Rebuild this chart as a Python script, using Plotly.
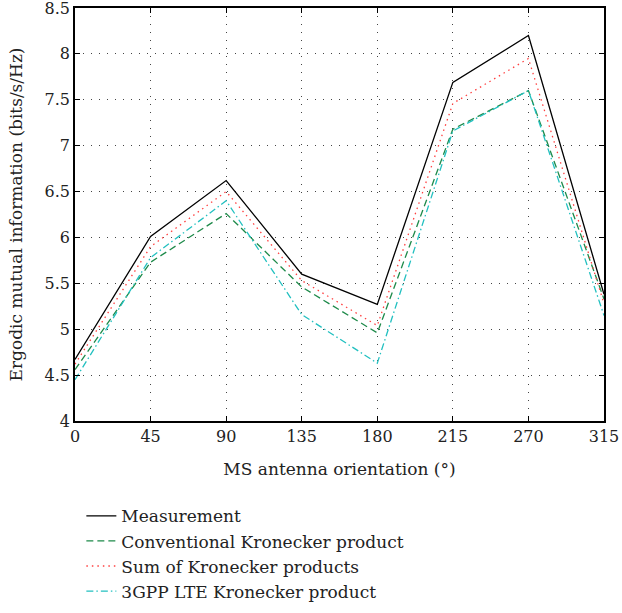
import plotly.graph_objects as go

x_ticklabels = ["0", "45", "90", "135", "180", "215", "270", "315"]
measurement = [4.67, 6.01, 6.62, 5.60, 5.27, 7.69, 8.20, 5.38]
conventional = [4.56, 5.73, 6.26, 5.46, 4.96, 7.18, 7.60, 5.33]
sum_kron = [4.62, 5.90, 6.50, 5.53, 5.04, 7.46, 7.95, 5.28]
lte = [4.45, 5.78, 6.40, 5.16, 4.63, 7.16, 7.60, 5.15]
y_ticks = [4, 4.5, 5, 5.5, 6, 6.5, 7, 7.5, 8, 8.5]

font_family = "DejaVu Serif, Liberation Serif, serif"
txt = "#222222"
fs_tick = 16
fs = 17

fig = go.Figure()
fig.add_trace(go.Scatter(x=x_ticklabels, y=measurement, mode="lines", name="Measurement",
                         line=dict(color="black", width=1.3)))
fig.add_trace(go.Scatter(x=x_ticklabels, y=conventional, mode="lines", name="Conventional Kronecker product",
                         line=dict(color="#1e8a4a", width=1.3, dash="7px,4px")))
fig.add_trace(go.Scatter(x=x_ticklabels, y=sum_kron, mode="lines", name="Sum of Kronecker products",
                         line=dict(color="#ff4040", width=1.3, dash="1.5px,4px")))
fig.add_trace(go.Scatter(x=x_ticklabels, y=lte, mode="lines", name="3GPP LTE Kronecker product",
                         line=dict(color="#22c0c0", width=1.3, dash="7px,3px,1.5px,3px")))

axis_common = dict(
    showline=True, linecolor="black", linewidth=1.5, mirror="ticks",
    ticks="inside", ticklen=5, tickcolor="black",
    showgrid=True, gridcolor="#444444", gridwidth=1, griddash="1px,7px",
    zeroline=False, tickfont=dict(family=font_family, size=fs_tick, color=txt),
    ticklabeloverflow="allow",
)

fig.update_xaxes(type="category", range=[0, 7], tickmode="array",
                 tickvals=x_ticklabels, ticktext=x_ticklabels,
                 title=dict(text="MS antenna orientation (°)", font=dict(family=font_family, size=fs, color=txt),
                            standoff=18),
                 **axis_common)
fig.update_yaxes(range=[4, 8.5], tickmode="array", tickvals=y_ticks,
                 ticktext=[f"{v:g}" for v in y_ticks],
                 title=dict(text="Ergodic mutual information (bits/s/Hz)",
                            font=dict(family=font_family, size=fs, color=txt), standoff=18),
                 **axis_common)

fig.update_layout(
    width=622, height=613,
    margin=dict(l=75, r=18, t=8, b=192, autoexpand=False),
    paper_bgcolor="white", plot_bgcolor="white",
    font=dict(family=font_family, size=fs, color=txt),
    legend=dict(x=0.012, xanchor="left", y=-0.187, yanchor="top",
                font=dict(family=font_family, size=fs, color=txt),
                bgcolor="rgba(0,0,0,0)", tracegroupgap=0, itemwidth=30),
    showlegend=True,
)

fig.write_html("out.html", config={"displayModeBar": False},
               post_script="document.body.style.margin='0';")
